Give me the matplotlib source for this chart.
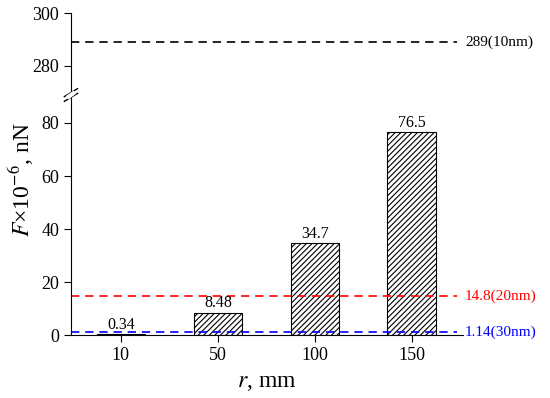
import numpy as np
import matplotlib.pyplot as plt

plt.rcParams['font.family'] = 'Liberation Serif'
plt.rcParams['mathtext.fontset'] = 'stix'
plt.rcParams['hatch.linewidth'] = 0.8

# data
radii = ['10', '50', '100', '150']
force = [0.34, 8.48, 34.7, 76.5]
force_labels = ['0.34', '8.48', '34.7', '76.5']
ref_values = [289, 14.8, 1.14]
ref_labels = ['289(10nm)', '14.8(20nm)', '1.14(30nm)']
ref_colors = ['black', 'red', 'blue']

fig = plt.figure(figsize=(5.5, 3.98), dpi=100)
left, right = 0.129, 0.842
y_bot, y_brk, y_top = 0.158, 0.761, 0.967
ax_top = fig.add_axes([left, y_brk, right - left, y_top - y_brk])
ax = fig.add_axes([left, y_bot, right - left, y_brk - y_bot])

x = np.arange(len(radii))
ax.bar(x, force, width=0.5, color='white', edgecolor='black', hatch='//////', linewidth=0.8)
for xi, v, s in zip(x, force, force_labels):
    ax.text(xi, v + 0.5, s, ha='center', va='bottom', fontsize=11.5)

xlim = (-0.515, 3.53)
x_end = 3.47
for a in (ax, ax_top):
    for v, c in zip(ref_values, ref_colors):
        a.plot([xlim[0], x_end], [v, v], ls=(0, (5, 3.5)), color=c, lw=1.2)
    a.set_xlim(xlim)
    a.spines['top'].set_visible(False)
    a.spines['right'].set_visible(False)
    a.tick_params(direction='out', labelsize=13, length=5)

for v, s, c in zip(ref_values, ref_labels, ref_colors):
    a = ax_top if v > 100 else ax
    a.text(3.55, v, s, color=c, fontsize=11, va='center', ha='left', clip_on=False)

ax.set_ylim(0, 90.5)
ax.set_yticks([0, 20, 40, 60, 80])
ax.set_xticks(x)
ax.set_xticklabels(radii)
ax.set_xlabel(r'$r$, mm', fontsize=17, labelpad=6)
ax.set_ylabel(r'$F$×10$^{-6}$, nN', fontsize=17)
ax.yaxis.set_label_coords(-0.09, 0.646)

ax_top.set_ylim(268.7, 300)
ax_top.set_yticks([280, 300])
ax_top.spines['bottom'].set_visible(False)
ax_top.set_xticks([])

# break marks on the left spine
yb = 1 - 95 / 398
for dy in (-0.006, 0.006):
    fig.add_artist(plt.Line2D([left - 0.012, left + 0.012], [yb + dy - 0.01, yb + dy + 0.01],
                              color='black', lw=1))
fig.add_artist(plt.Line2D([left - 0.004, left + 0.004], [yb - 0.004, yb + 0.004],
                          color='white', lw=3))

fig.savefig('out.png', dpi=100)
